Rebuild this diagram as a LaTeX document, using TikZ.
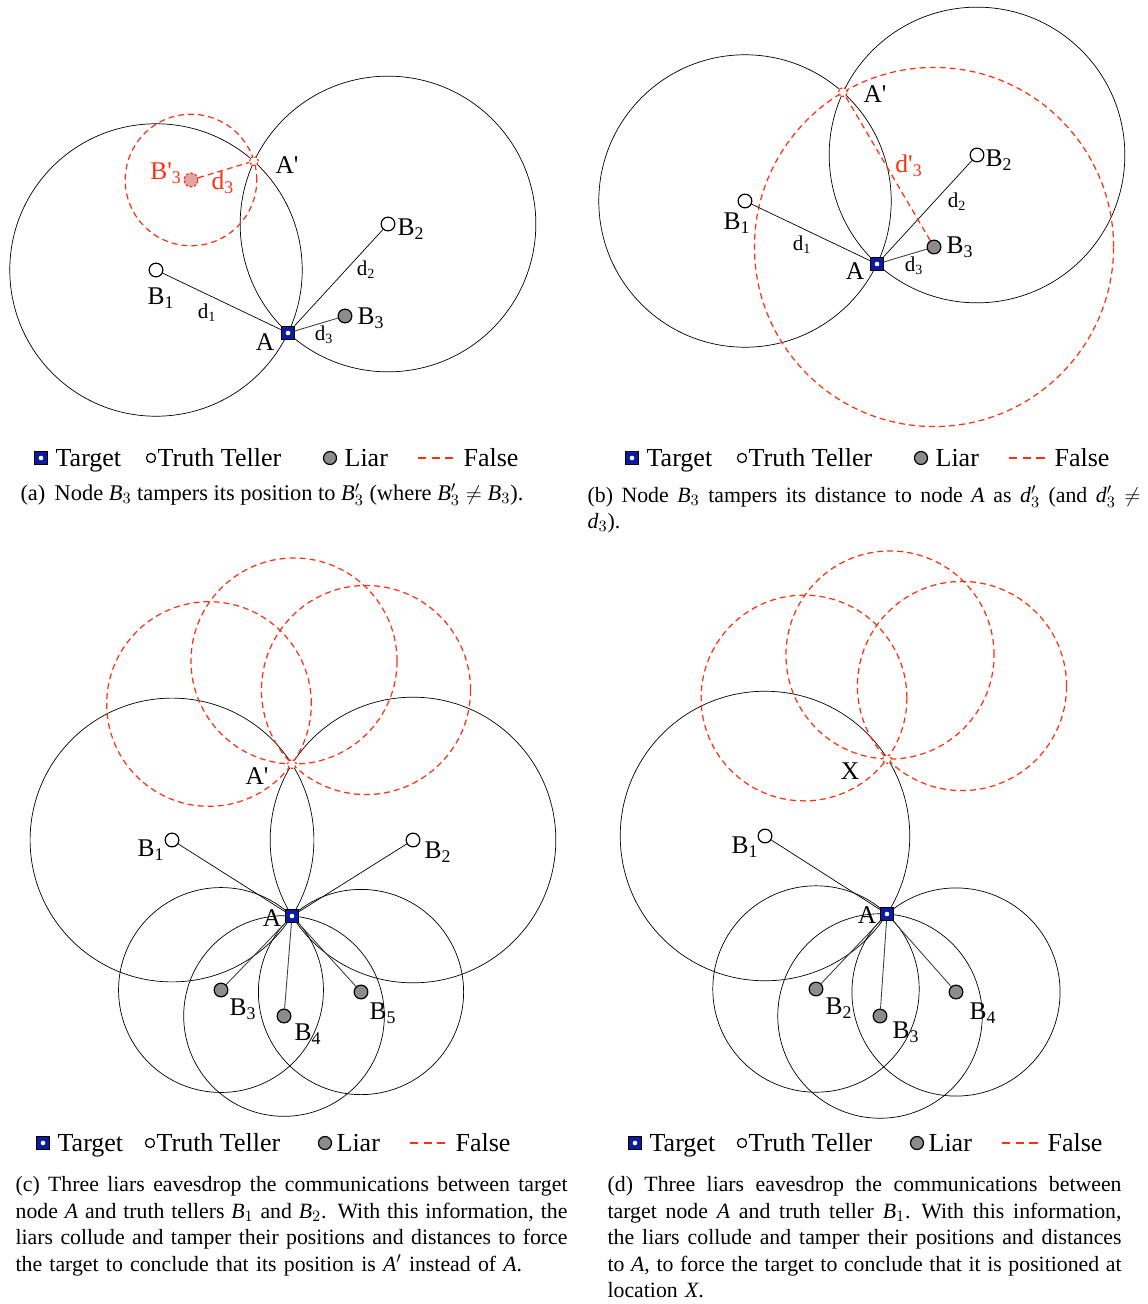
\documentclass[tikz,border=0pt]{standalone}
\usepackage{fontspec}
\setmainfont{Liberation Serif}
\usetikzlibrary{calc,backgrounds}

\definecolor{targetblue}{RGB}{12,28,160}
\definecolor{liargray}{RGB}{140,140,140}
\definecolor{falsered}{RGB}{255,48,16}
\definecolor{fakepink}{RGB}{226,165,165}

\newcommand{\ringthrough}[3][]{\draw[#1] let \p1=($(#3.center)-(#2.center)$), \n1={veclen(\x1,\y1)} in (#2.center) circle (\n1);}
\newcommand{\jl}[1]{\makebox[\hsize][s]{\spaceskip=0.25em plus 1em minus 0.08em\relax #1}}
\newcommand{\mv}[2]{\textit{#1}$_{#2}$}
\newcommand{\mvp}[2]{\textit{#1}$'_{#2}$}

\tikzset{
	target/.style={draw, line width=0.7pt, fill=targetblue, minimum size=7.4pt, inner sep=0pt,
		path picture={\fill[white] (path picture bounding box.center) circle (1.3pt);}},
	truth/.style={circle, draw, line width=0.7pt, fill=white, minimum size=7.8pt, inner sep=0pt},
	liar/.style={circle, draw, line width=0.7pt, fill=liargray, minimum size=7.8pt, inner sep=0pt},
	fake/.style={circle, draw=falsered, dash pattern=on 1.2pt off 1pt, fill=white, minimum size=5pt, inner sep=0pt},
	fakeliar/.style={circle, draw=falsered, dash pattern=on 1.5pt off 1pt, fill=fakepink, minimum size=7.8pt, inner sep=0pt},
	falseline/.style={draw=falsered, dash pattern=on 3.4pt off 2.3pt, line width=0.7pt},
	liarline/.style={draw=black!75, line width=0.5pt},
	lbl/.style={font=\fontsize{14.5}{17}\selectfont, inner sep=0pt},
	keytext/.style={font=\fontsize{14.8}{17}\selectfont, inner sep=0pt, anchor=base west},
	dst/.style={font=\fontsize{12}{14}\selectfont, inner sep=0pt},
	captext/.style={font=\fontsize{12.4}{15.1}\selectfont, inner sep=0pt},
}

\begin{document}
\begin{tikzpicture}[x=0.02cm, y=-0.02cm, line width=0.7pt]
	\useasboundingbox (0,0) rectangle (1148,1304);

	% (a) position tampered
	\node[target] (aA) at (288,333) {};
	\node[truth] (aB1) at (156,270) {};
	\node[truth] (aB2) at (388,224) {};
	\node[liar] (aB3) at (345,316) {};
	\node[fake] (aAp) at (254,161) {};
	\node[fakeliar] (aB3p) at (191,180) {};
	\node[lbl] (aLAp) at (287,165) {A\textquotesingle};
	\node[lbl, text=falsered] (aLB3p) at (166,173) {B\textquotesingle\textsubscript{3}};
	\node[lbl, text=falsered] (aLd3p) at (223,183) {d\textsubscript{3}};
	\node[lbl] (aLB2) at (411,229) {B\textsubscript{2}};
	\node[dst] (aLd2) at (366,270) {d\textsubscript{2}};
	\node[lbl] (aLB1) at (161,298) {B\textsubscript{1}};
	\node[dst] (aLd1) at (207,313) {d\textsubscript{1}};
	\node[lbl] (aLB3) at (371,318) {B\textsubscript{3}};
	\node[dst] (aLd3) at (324,335) {d\textsubscript{3}};
	\node[lbl] (aLA) at (265,342) {A};
	\begin{scope}[on background layer]
		\ringthrough{aB1}{aA}
		\ringthrough{aB2}{aA}
		\ringthrough[falseline]{aB3p}{aAp}
		\draw (aB1) -- (aA) -- (aB2);
		\draw[liarline] (aA) -- (aB3);
		\draw[falseline] (aB3p) -- (aAp);
	\end{scope}

	% (b) distance tampered
	\node[target] (bA) at (877,264) {};
	\node[truth] (bB1) at (745,201) {};
	\node[truth] (bB2) at (977,155) {};
	\node[liar] (bB3) at (934,247) {};
	\node[fake] (bAp) at (843,92) {};
	\node[lbl] (bLAp) at (875,94) {A\textquotesingle};
	\node[lbl, text=falsered] (bLd3p) at (909,166) {d\textquotesingle\textsubscript{3}};
	\node[lbl] (bLB2) at (999,160) {B\textsubscript{2}};
	\node[dst] (bLd2) at (957,202) {d\textsubscript{2}};
	\node[lbl] (bLB1) at (737,223) {B\textsubscript{1}};
	\node[dst] (bLd1) at (802,245) {d\textsubscript{1}};
	\node[lbl] (bLB3) at (960,247) {B\textsubscript{3}};
	\node[dst] (bLd3) at (914,266) {d\textsubscript{3}};
	\node[lbl] (bLA) at (855,271) {A};
	\begin{scope}[on background layer]
		\ringthrough{bB1}{bA}
		\ringthrough{bB2}{bA}
		\ringthrough[falseline]{bB3}{bAp}
		\draw (bB1) -- (bA) -- (bB2);
		\draw[liarline] (bA) -- (bB3);
		\draw[falseline] (bB3) -- (bAp);
	\end{scope}

	% (c) three liars, two truth tellers
	\node[target] (cA) at (292,916) {};
	\node[truth] (cB1) at (172,840) {};
	\node[truth] (cB2) at (413,840) {};
	\node[liar] (cB3) at (221,990) {};
	\node[liar] (cB4) at (284,1016) {};
	\node[liar] (cB5) at (361,992) {};
	\node[fake] (cAp) at (292,764) {};
	\coordinate (cR1) at (209,704);
	\coordinate (cR2) at (294,661);
	\coordinate (cR3) at (366,690);
	\node[lbl] (cLB1) at (151,850) {B\textsubscript{1}};
	\node[lbl] (cLB2) at (438,852) {B\textsubscript{2}};
	\node[lbl] (cLA) at (272,918) {A};
	\node[lbl] (cLAp) at (257,776) {A\textquotesingle};
	\node[lbl] (cLB3) at (243,1009) {B\textsubscript{3}};
	\node[lbl] (cLB4) at (308,1034) {B\textsubscript{4}};
	\node[lbl] (cLB5) at (383,1013) {B\textsubscript{5}};
	\begin{scope}[on background layer]
		\ringthrough{cB1}{cA}
		\ringthrough{cB2}{cA}
		\ringthrough{cB3}{cA}
		\ringthrough{cB4}{cA}
		\ringthrough{cB5}{cA}
		\ringthrough[falseline]{cR1}{cAp}
		\ringthrough[falseline]{cR2}{cAp}
		\ringthrough[falseline]{cR3}{cAp}
		\draw (cB1) -- (cA) -- (cB2);
		\draw[liarline] (cA) -- (cB3);
		\draw[liarline] (cA) -- (cB4);
		\draw[liarline] (cA) -- (cB5);
	\end{scope}

	% (d) three liars, one truth teller
	\node[target] (dA) at (887,914) {};
	\node[truth] (dB1) at (765,836) {};
	\node[liar] (dB2) at (816,989) {};
	\node[liar] (dB3) at (880,1016) {};
	\node[liar] (dB4) at (956,992) {};
	\node[fake] (dX) at (887,759) {};
	\coordinate (dR1) at (804,698);
	\coordinate (dR2) at (890,655);
	\coordinate (dR3) at (962,686);
	\node[lbl] (dLB1) at (745,847) {B\textsubscript{1}};
	\node[lbl] (dLA) at (867,915) {A};
	\node[lbl] (dLX) at (850,771) {X};
	\node[lbl] (dLB2) at (839,1008) {B\textsubscript{2}};
	\node[lbl] (dLB3) at (906,1032) {B\textsubscript{3}};
	\node[lbl] (dLB4) at (983,1013) {B\textsubscript{4}};
	\begin{scope}[on background layer]
		\ringthrough{dB1}{dA}
		\ringthrough{dB2}{dA}
		\ringthrough{dB3}{dA}
		\ringthrough{dB4}{dA}
		\ringthrough[falseline]{dR1}{dX}
		\ringthrough[falseline]{dR2}{dX}
		\ringthrough[falseline]{dR3}{dX}
		\draw (dB1) -- (dA);
		\draw[liarline] (dA) -- (dB2);
		\draw[liarline] (dA) -- (dB3);
		\draw[liarline] (dA) -- (dB4);
	\end{scope}

	% legends (\s = 1 for the tighter ones below)
	\foreach \p/\lx/\ly/\s in {a/41/458/0, b/632/458/0, c/43/1143/1, d/635/1143/1}{
		\node[target, minimum size=7pt] (\p-kT) at (\lx,\ly) {};
		\node[keytext] (\p-kTt) at (\lx+14,\ly+8) {Target};
		\node[truth, minimum size=5.2pt] (\p-kH) at (\lx+110-3*\s,\ly) {};
		\node[keytext] (\p-kHt) at (\lx+116-3*\s,\ly+8) {Truth Teller};
		\node[liar, minimum size=7.4pt] (\p-kL) at (\lx+289-7*\s,\ly) {};
		\node[keytext] (\p-kLt) at (\lx+303-10*\s,\ly+8) {Liar};
		\draw[falseline, dash pattern=on 4.6pt off 3.2pt] (\lx+377-10*\s,\ly) -- (\lx+416-10*\s,\ly);
		\node[keytext] (\p-kFt) at (\lx+422-10*\s,\ly+8) {False};
	}

	% captions
	\node[captext, font=\fontsize{12.75}{15.1}\selectfont, anchor=base] (capA) at (272,500)
		{(a)\ \,Node \mv{B}{3} tampers its position to \mvp{B}{3} (where \mvp{B}{3}${}\neq{}$\mv{B}{3}).};
	\node[captext, anchor=north west, text width=11.06cm, align=left] (capB) at (587,485)
		{\jl{(b) Node \mv{B}{3} tampers its distance to node \textit{A} as \mvp{d}{3} (and \mvp{d}{3} $\neq$}\\ \mv{d}{3}).};
	\node[captext, anchor=north west, text width=11.04cm, align=left] (capC) at (15,1176)
		{\jl{(c) Three liars eavesdrop the communications between target}\\
		\jl{node \textit{A} and truth tellers \mv{B}{1} and \mv{B}{2}. With this information, the}\\
		\jl{liars collude and tamper their positions and distances to force}\\
		the target to conclude that its position is \textit{A}$'$ instead of \textit{A}.};
	\node[captext, anchor=north west, text width=10.28cm, align=left] (capD) at (607,1176)
		{\jl{(d) Three liars eavesdrop the communications between}\\
		\jl{target node \textit{A} and truth teller \mv{B}{1}. With this information,}\\
		\jl{the liars collude and tamper their positions and distances}\\
		\jl{to \textit{A}, to force the target to conclude that it is positioned at}\\
		location \textit{X}.};
\end{tikzpicture}
\end{document}
